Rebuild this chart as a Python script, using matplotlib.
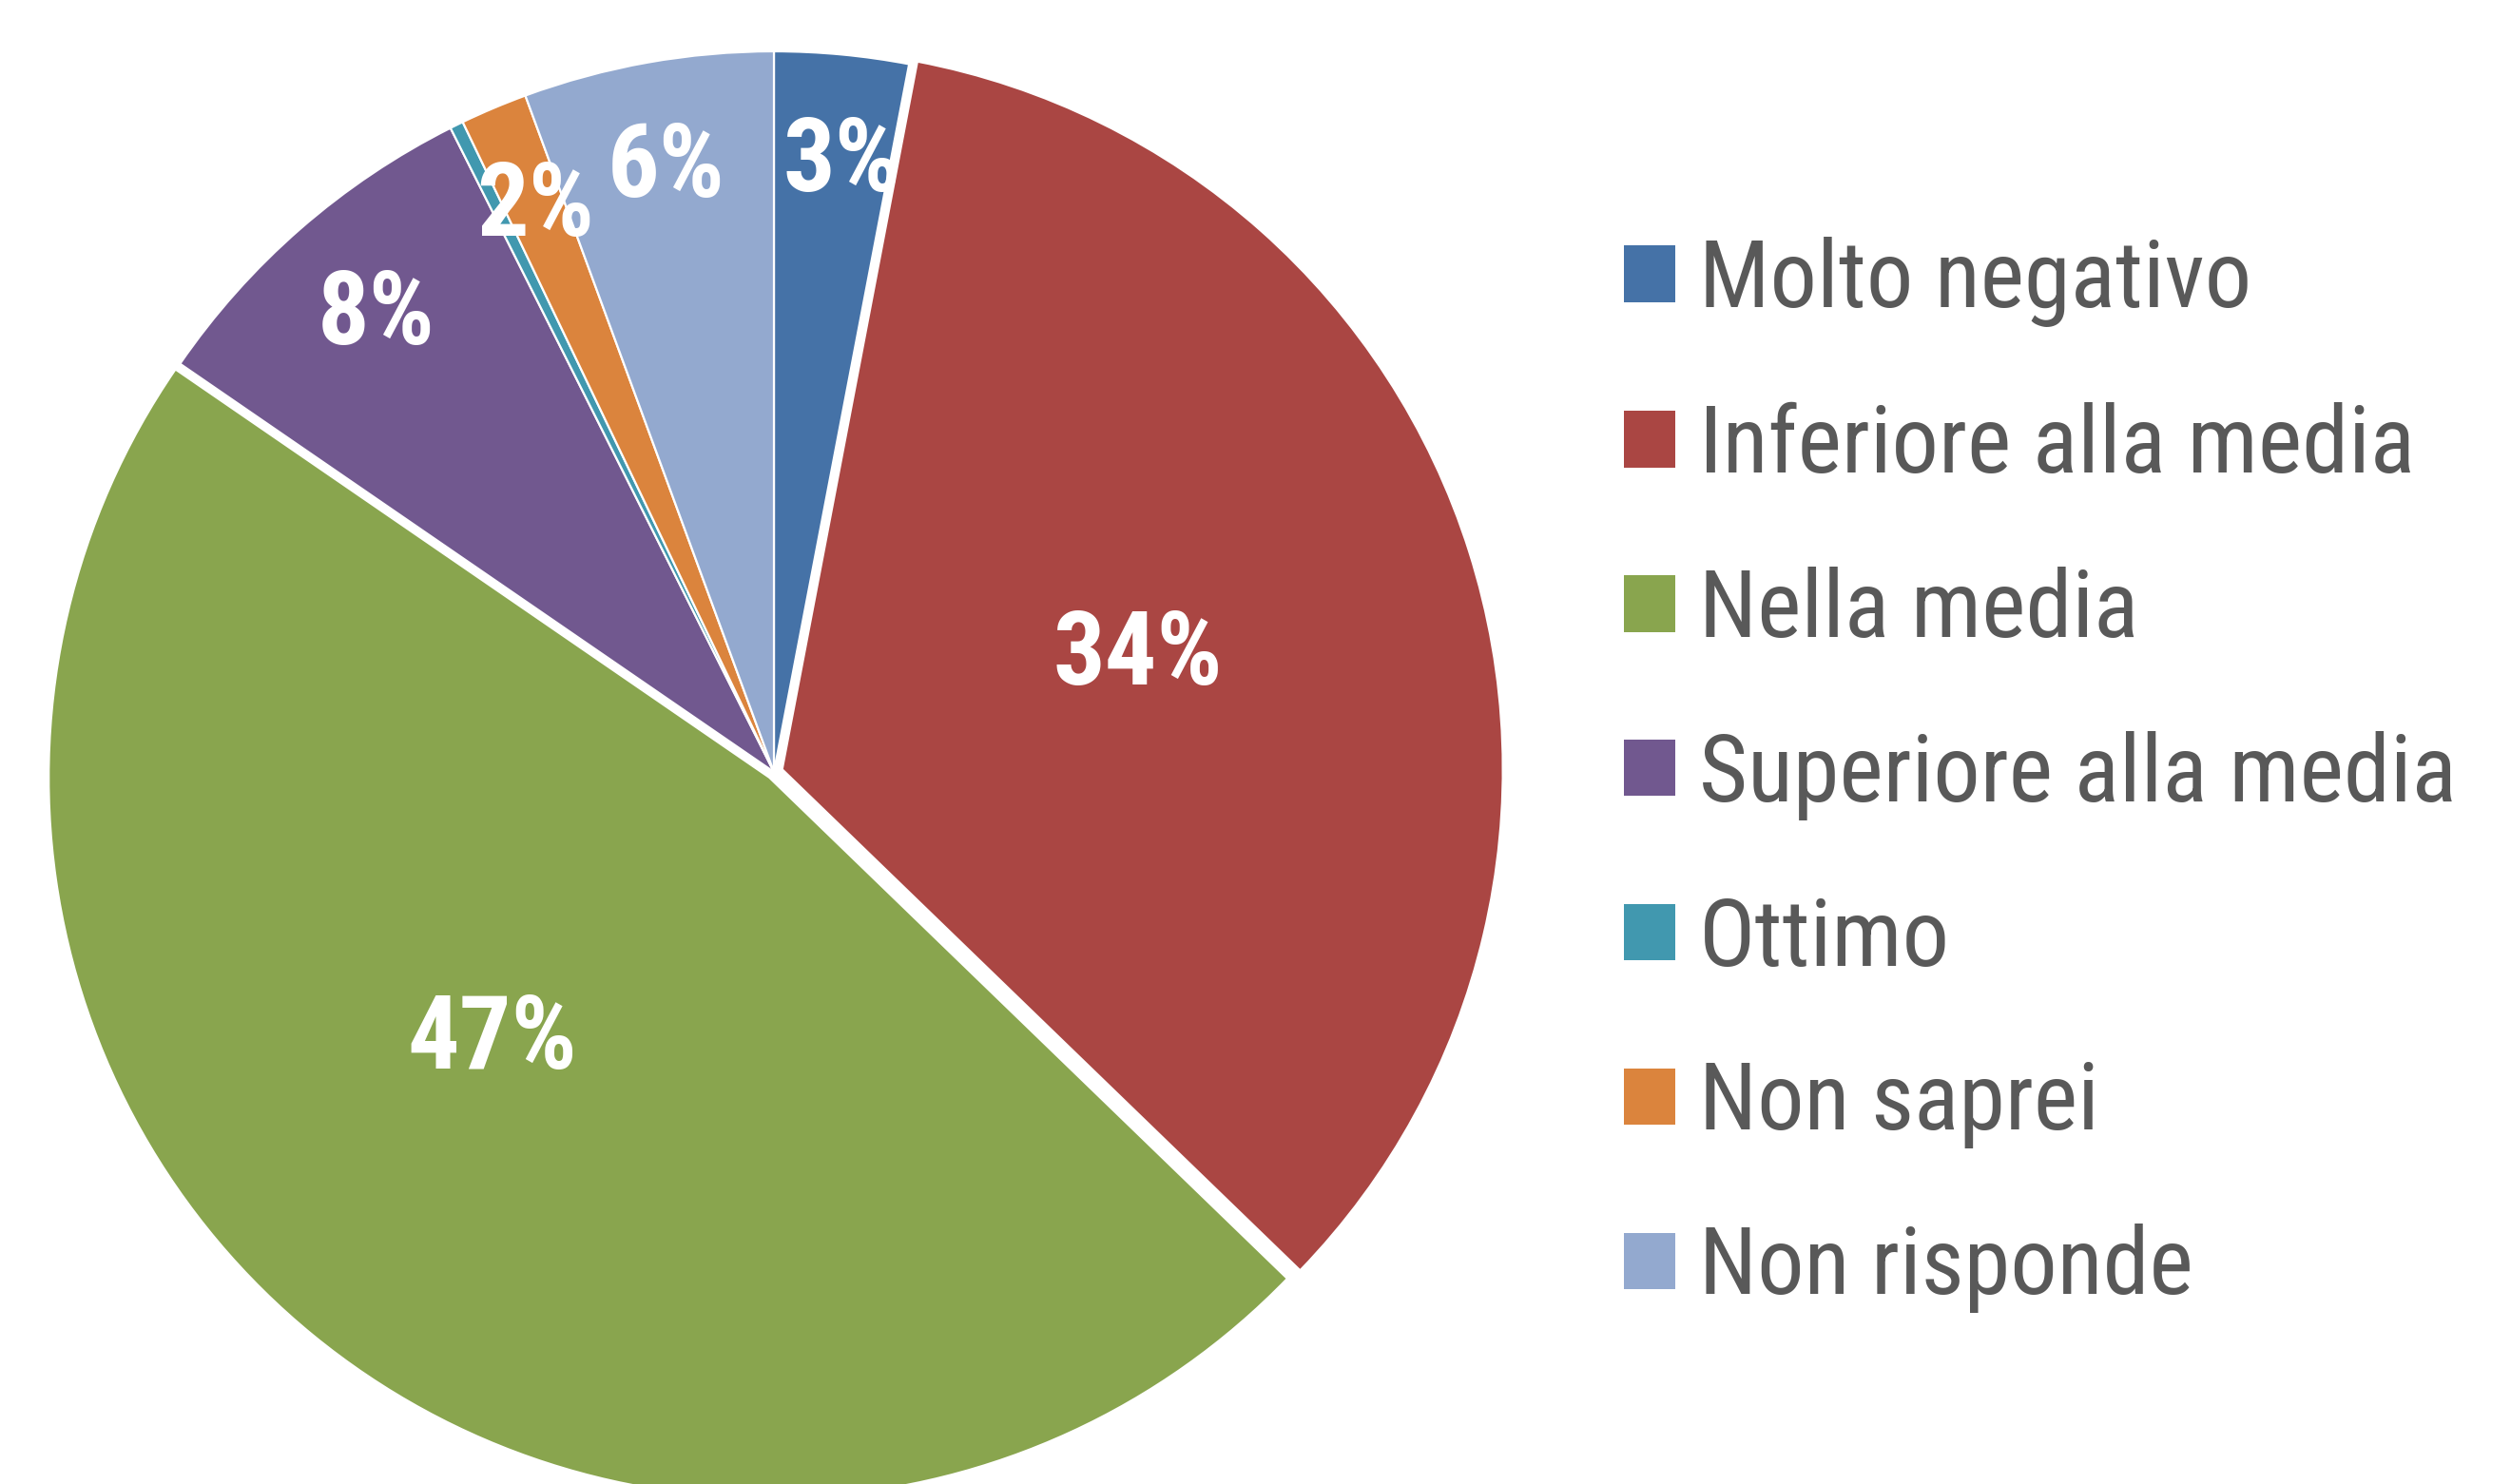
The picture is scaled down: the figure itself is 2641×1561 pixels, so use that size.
import numpy as np
import matplotlib
matplotlib.use("Agg")
import matplotlib.pyplot as plt

categories = ["Molto negativo", "Inferiore alla media", "Nella media",
              "Superiore alla media", "Ottimo", "Non saprei", "Non risponde"]
values = [3.0, 34.2, 47.3, 8.0, 0.3, 1.5, 5.6]
labels = ["3%", "34%", "47%", "8%", "", "2%", "6%"]
colors = ["#4572A7", "#AA4643", "#89A54E", "#71588F", "#4198AF", "#DB843D", "#93A9CF"]

font = ["Roboto Condensed", "DejaVu Sans"]

W, H = 2641, 1561
fig = plt.figure(figsize=(W / 100, H / 100), dpi=100)

# pie centre / radius in pixels (top-left origin)
cx, cy, r = 814, 812, 758
ax = fig.add_axes([(cx - r) / W, (H - cy - r) / H, 2 * r / W, 2 * r / H])

explode = [0, 0.012, 0.010, 0, 0, 0, 0]
wedges, _ = ax.pie(values, colors=colors, startangle=90, counterclock=False,
                   explode=explode, radius=1,
                   wedgeprops=dict(edgecolor="white", linewidth=1.6))
ax.set_xlim(-1, 1)
ax.set_ylim(-1, 1)
ax.set_aspect("equal")
ax.axis("off")

# label placement (distance from centre, angle nudge in degrees)
label_r = [0.85, 0.53, 0.54, 0.84, 0.85, 0.85, 0.85]
label_da = [-1, 0, -7, 0, 0, 0, 0]
for w, lab, lr, da in zip(wedges, labels, label_r, label_da):
    if not lab:
        continue
    ang = np.deg2rad((w.theta1 + w.theta2) / 2 + da)
    ax.text(lr * np.cos(ang), lr * np.sin(ang), lab, ha="center", va="center",
            color="white", fontsize=78, fontweight="bold", family=font)

leg = fig.legend(wedges, categories, loc="upper left",
                 bbox_to_anchor=(1708 / W, 1 - 249 / H), frameon=False,
                 prop=dict(family=font, size=71), labelcolor="#595959",
                 handlelength=0.55, handleheight=0.55, handletextpad=0.25,
                 labelspacing=0.80, borderpad=0, borderaxespad=0)
for h in leg.legend_handles:
    h.set_edgecolor("none")

fig.savefig("out.png", dpi=100)
